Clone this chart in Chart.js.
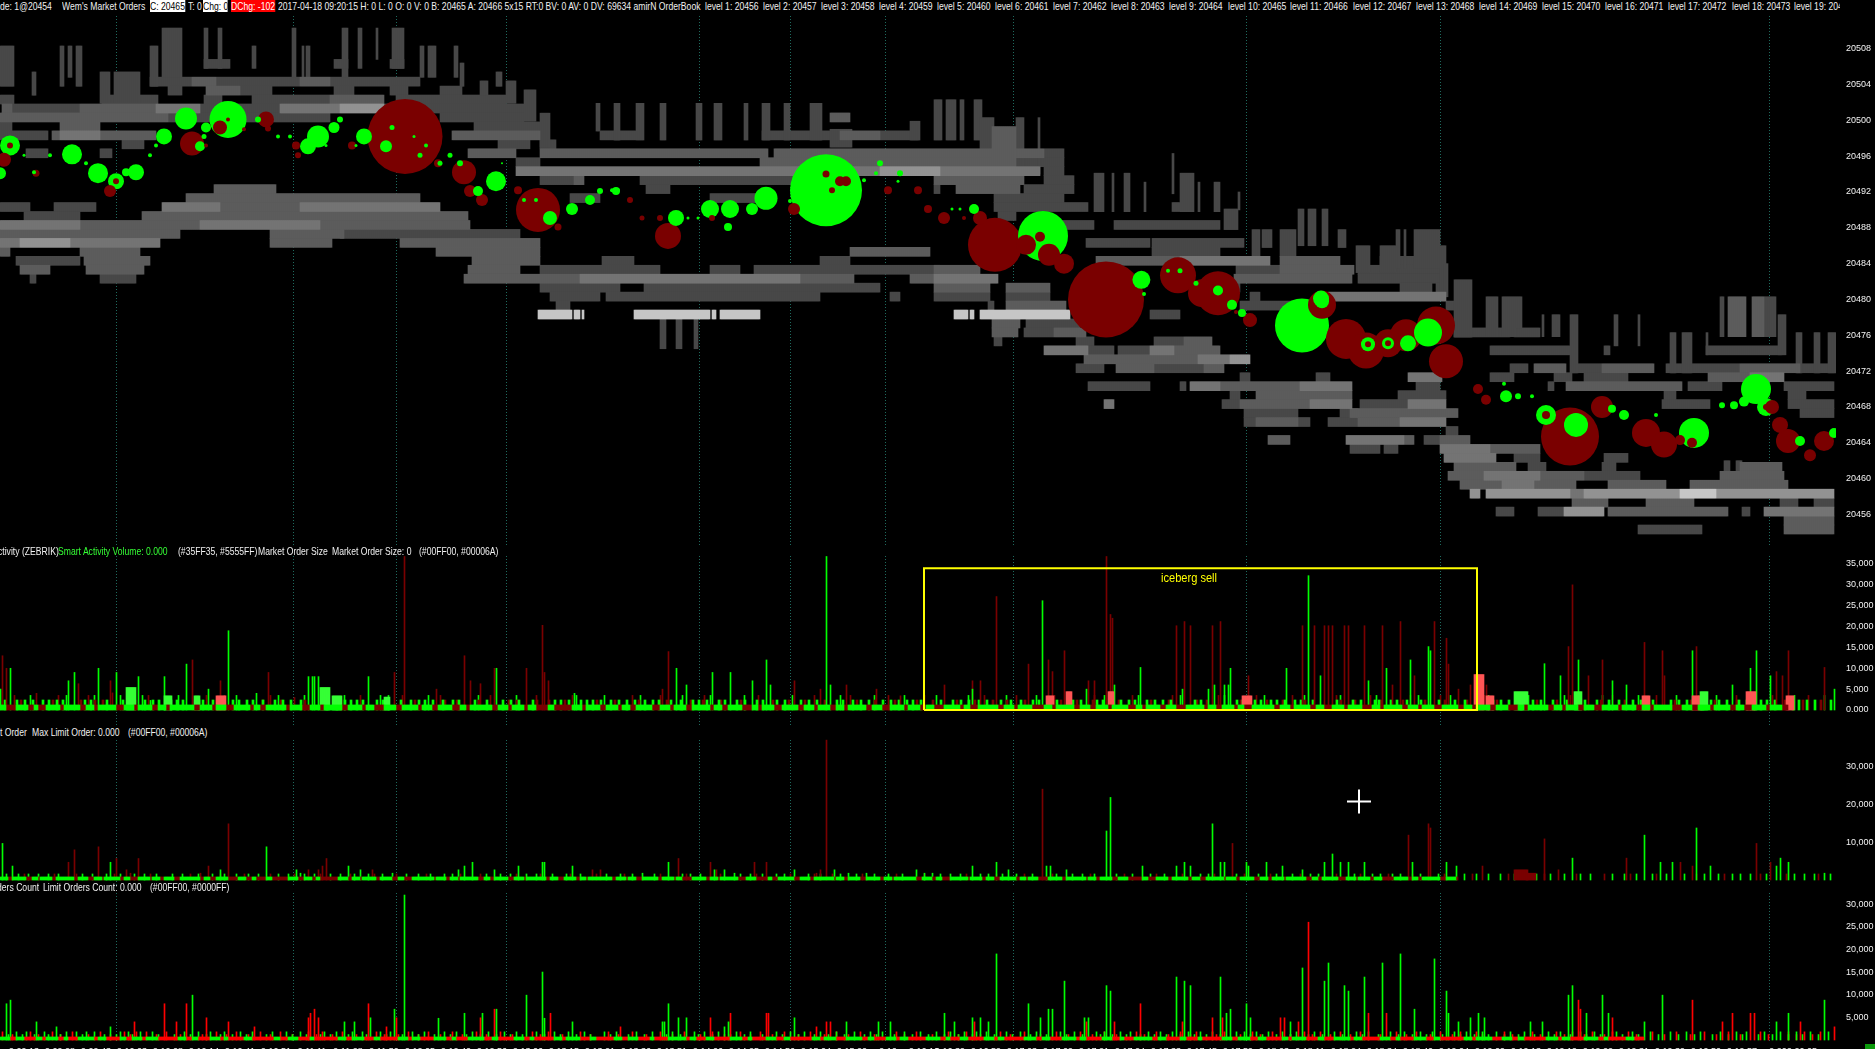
<!DOCTYPE html>
<html><head><meta charset="utf-8">
<script src="https://cdn.jsdelivr.net/npm/chart.js@4"></script>
<style>
html,body{margin:0;padding:0;background:#000;width:1875px;height:1049px;overflow:hidden}
canvas{position:absolute;left:0;display:block}
.t{position:absolute;white-space:pre;font:10.5px/12px "Liberation Sans",sans-serif;color:#f0f0f0;z-index:5;transform:scaleX(.82);transform-origin:0 0}
</style></head><body>
<canvas id="p1" width="1875" height="531" style="top:14px"></canvas>
<canvas id="p2" width="1875" height="169" style="top:556px"></canvas>
<canvas id="p3" width="1875" height="147" style="top:738px"></canvas>
<canvas id="p4" width="1875" height="183" style="top:892px"></canvas>
<script>
// ---------- shared ----------
const columnCount = 918;
const gridColumns = [58,146.5,198,253,349.5,395,442.5,506.5,623,720,884.5];
const priceTicks = [20456,20460,20464,20468,20472,20476,20480,20484,20488,20492,20496,20500,20504,20508];
const sizeTicks = [0,5000,10000,15000,20000,25000,30000,35000];
const limitTicks = [10000,20000,30000];
const countTicks = [5000,10000,15000,20000,25000,30000];
const timeColumns = [12,30,48,66,84,102,120,138,156,174,192,210,228,246,264,282,300,318,336,354,372,390,408,426,444,462,475,493,511,529,547,565,583,601,619,637,655,673,691,709,727,745,763,781,799,817,835,853,871,889,901];
const timeLabels = ["9:09:13","9:09:28","9:09:43","9:10:03","9:10:08","9:10:14","9:10:41","9:10:51","9:11:11","9:11:28","9:11:50","9:12:05","9:12:40","9:12:56","9:13:06","9:13:15","9:13:21","9:13:36","9:13:51","9:14:06","9:14:25","9:14:56","9:15:04","9:15:20","9:16","9:16:10","9:16:39","9:16:59","9:17:03","9:17:09","9:17:21","9:17:24","9:17:33","9:17:45","9:17:59","9:18:03","9:18:11","9:18:24","9:18:34","9:18:40","9:19:04","9:19:09","9:19:13","9:19:19","9:19:22","9:19:31","9:19:39","9:19:50","9:19:57","9:20","9:20:05"];

// ---------- order book heat (price level, [first col, last col, shade ...]) ----------
const heatShades = ["#000","#484848","#5c5c5c","#747474","#929292","#c6c6c6"];
const heatPrices = [20504,20503,20502,20501,20500,20499,20498,20497,20496,20495,20494,20493,20492,20491,20490,20489,20488,20487,20486,20485,20484,20483,20482,20481,20480,20479,20478,20477,20476,20475,20474,20473,20472,20471,20470,20469,20468,20467,20466,20465,20464,20463,20462,20461,20460,20459,20458,20457,20456,20455,20454];
const heatSpans = [
 [75,96,1,96,108,2,108,150,1,150,165,2,165,210,1],
 [84,91,1,103,120,2,120,136,1,167,177,1,195,204,1,220,231,1],
 [0,7,1,51,79,1,102,111,1,126,135,1,135,165,1,165,192,2,198,231,1,231,253,1],
 [1,6,2,6,40,1,40,78,2,78,100,3,100,140,1,140,150,3,150,170,3,170,192,4,192,262,1],
 [0,45,2,45,84,2,84,135,1,135,150,1,150,165,1,220,262,1,415,425,2],
 [0,6,1,30,50,2,237,270,1],
 [0,24,1,26,30,2,30,50,3,50,78,2,226,270,2,300,318,1,381,420,1,420,440,2,440,459,1],
 [61,72,1,249,265,1,270,278,1],
 [13,24,1,50,56,1,234,258,2,270,330,2,330,384,2,387,430,2,430,470,2,470,480,2,480,522,2,522,532,1],
 [258,270,1,380,430,2,430,500,2,500,532,1],
 [258,300,3,300,340,3,340,395,3,395,440,3,440,470,4,470,500,3,500,520,3,522,532,1],
 [270,290,1,287,292,2,320,400,1,467,512,2,522,537,1],
 [107,138,2,323,335,1,467,470,1,478,510,2,512,537,1],
 [93,120,2,120,160,2,160,210,2,285,300,1,355,383,1,497,532,1],
 [0,15,1,27,48,1,81,110,3,110,150,2,150,220,3,497,544,1,586,590,1],
 [12,40,1,71,120,2,120,170,2,170,234,2,499,508,1],
 [0,40,3,40,100,2,100,160,3,160,235,2,530,547,1,557,610,1],
 [0,90,2,135,172,2,170,260,1],
 [0,10,3,10,35,4,35,80,3,135,166,2,200,270,2,543,575,1,576,622,1],
 [0,5,2,40,70,2,218,270,2,425,465,2,576,610,1],
 [8,40,1,42,75,2,236,270,2,301,317,1,410,425,1,548,590,2,590,635,3,640,670,2,690,722,1],
 [10,25,2,43,72,2,234,260,2,270,330,1,355,370,1,377,470,1,467,490,2,618,640,1,640,677,2,679,722,1],
 [15,18,1,50,68,1,232,270,2,270,290,2,290,400,3,400,427,2,455,470,2,467,499,3,617,676,2,679,723,1],
 [270,310,1,322,440,1,467,495,2,503,525,2,613,620,1,700,716,1,718,722,1],
 [275,300,1,303,410,1,445,450,1,467,495,1,503,525,1,625,630,1,664,723,3],
 [278,285,1,494,497,1,503,533,2,620,660,1,723,730,1],
 [269,286,5,287,288,5,288,290,5,291,292,5,317,355,5,356,358,5,360,378,5,378,380,5,477,484,5,485,487,5,490,535,5,575,590,1],
 [496,510,2,513,527,1,527,540,1],
 [496,509,2,512,527,1,527,543,2,727,740,1,740,755,1,757,770,1],
 [497,501,1,538,547,1,577,592,1,592,606,2],
 [522,544,3,544,557,1,559,575,1,575,587,3,587,610,2,745,757,1,757,785,1,802,805,1,853,891,1],
 [542,587,2,587,599,2,599,615,3,615,625,4],
 [538,552,1,558,577,2,577,587,1,587,602,1,602,612,2,755,764,1,767,783,2,786,801,1,801,827,2,833,870,1,870,900,2,900,917,1],
 [620,625,1,658,665,1,704,721,3,745,757,1,777,786,1,792,814,1,854,875,2,875,892,3],
 [544,575,1,590,593,1,595,610,3,610,625,2,625,650,2,650,676,3,708,720,1,774,777,1,783,841,2,844,861,1,892,917,1],
 [615,620,1,628,676,2,699,723,1,832,838,1,894,903,1],
 [552,557,3,611,620,1,620,655,2,655,676,3,680,704,1,704,723,3,831,855,1,894,917,1],
 [622,649,1,670,679,1,675,700,2,700,729,2,900,917,1],
 [622,628,1,628,649,2,649,655,1,664,679,1,679,700,2,700,723,3],
 [723,729,1],
 [634,645,2,673,702,3,702,707,2,712,720,1,720,735,2],
 [675,690,1,692,699,1,720,745,3,745,770,2],
 [722,748,3,757,770,1,802,814,1],
 [727,758,2,764,773,1,801,808,1,870,891,2],
 [724,742,2,742,770,3,770,792,2,792,820,1,860,892,2],
 [730,751,2,751,767,3,767,788,2,804,833,2,845,894,2],
 [735,740,4,743,785,4,785,792,3,792,840,4,840,858,5,858,917,4],
 [786,804,2,823,847,2,890,899,1,907,917,1],
 [748,757,1,769,782,1,782,802,4,804,820,2,820,864,2,871,875,1,882,917,3],
 [892,917,2],
 [819,851,1,892,917,2]
];
// vertical staples above the band: first col, last col, low price, high price, shade
const heatStrips = [
 [0,6,20503.8,20508.3,1],[16,17,20502.8,20505.4,1],[30,31,20503.8,20508.3,1],[34,35,20504.8,20508.3,1],[38,40,20503.8,20508.3,1],
 [50,54,20501.9,20505.4,1],[57,69,20501.9,20505.4,1],[75,78,20503.8,20508.3,1],[81,90,20504.8,20510.3,1],
 [102,103,20505.8,20510.3,1],[109,110,20505.8,20510.3,1],[102,114,20505.8,20506.8,1],[126,127,20505.8,20508.3,1],
 [146,147,20504.8,20510.3,1],[151,151,20504.8,20508.3,1],[153,154,20504.8,20508.3,1],[171,173,20504.8,20510.3,1],[167,173,20505.8,20506.8,1],
 [179,180,20505.8,20510.3,1],[188,188,20506.8,20510.3,1],[196,201,20505.8,20510.3,1],[195,201,20505.8,20506.8,1],
 [210,211,20504.8,20508.3,1],[214,217,20504.8,20508.3,1],[227,228,20504.8,20508.3,1],[230,231,20503.8,20506.4,1],[248,250,20503.8,20505.4,1],
 [240,243,20502.8,20504.4,1],[253,257,20501.9,20504.4,1],[262,267,20499.9,20503.4,1],[270,274,20497,20500.8,1],[298,299,20498.8,20501.9,1],
 [307,309,20497.8,20501.9,1],[318,321,20497.8,20501.9,1],[330,332,20497.8,20501.9,1],[348,350,20497.8,20501.9,1],[357,360,20497.8,20501.9,1],[372,373,20497.8,20501.9,1],[381,384,20497.8,20501.9,1],[392,394,20497.8,20501.9,1],[405,410,20497.8,20501.9,1],[415,425,20497,20499,1],[455,459,20497.8,20499.9,1],
 [467,470,20497.8,20502.3,1],[473,477,20497.8,20502.3,1],[480,481,20497.8,20502.3,1],[487,490,20497.8,20502.3,1],[490,496,20494,20500.3,1],[496,507,20494,20499.3,2],[508,511,20494,20500.3,1],[519,519,20494,20500.3,1],
 [547,551,20489.8,20494.1,1],[556,556,20489.8,20494.1,1],[562,564,20489.8,20494.1,1],[572,572,20489.8,20493.1,1],[586,586,20491.8,20496.3,1],[590,596,20489.8,20494.1,1],[599,599,20489.8,20493.1,1],[607,609,20489.8,20493.1,1],
 [612,618,20487.8,20490.1,1],[619,619,20490,20492,1],[626,629,20484.8,20487.8,1],[631,635,20485.8,20487.8,1],[640,647,20484.8,20487.8,1],[649,651,20486,20490.1,1],[654,657,20486,20490.1,1],[661,663,20486,20490.1,1],[669,672,20485.8,20487.8,1],
 [678,684,20483,20486,1],[690,697,20483,20486,1],[698,699,20483.5,20487.8,1],[702,702,20483.5,20487.8,1],[707,719,20483.5,20487.8,1],[720,722,20480.3,20486,1],[722,723,20480.3,20484,1],
 [727,735,20475.8,20482.2,1],[743,748,20475.85,20480.3,1],[751,757,20475.85,20480.3,1],[758,760,20476.82,20480.3,1],[771,771,20475.85,20478.3,1],[776,779,20475.85,20478.3,1],[785,788,20471.8,20478.3,1],[807,808,20474.82,20478.3,1],[819,819,20474.82,20478.3,1],[835,837,20471.8,20476.3,1],[841,845,20471.8,20476.3,1],[853,853,20473.82,20476.3,1],[860,861,20475.85,20480.3,1],[864,872,20475.85,20480.3,2],[876,881,20475.85,20480.3,2],[882,887,20475.85,20480.3,1],[889,892,20473.82,20478.3,1],[898,900,20471.8,20476.3,1],[907,909,20471.8,20476.3,1],[914,917,20471.8,20476.3,1],
 [330,332,20474.5,20477.8,1],[338,340,20474.5,20477.8,1],[347,348,20474.5,20477.8,1],[862,864,20460.8,20462,1],[868,870,20460.8,20462,1]
];

// ---------- market order bubbles: column, price, size ----------
const buyBubbles = [
 [5,20497.2,10],[0,20494.1,6],[36,20496.2,10],[49,20494.1,10],[58,20493.2,8],[68,20494.2,8],[63,20494.2,4],[82,20498.2,8],[93,20500.2,11],[100,20497.1,5],[114,20500.1,18.5],[103,20499.2,5],[129,20500.1,3],[159,20498.2,11],[154,20497.1,8],[167,20499.2,5.5],[170,20500.1,3],[182,20498.2,8],[193,20497.1,6],[196,20499.2,2.5],
 [230,20495.2,3],[248,20493.2,10],[239,20492.1,5],[275,20489.1,7],[286,20490.1,6],[300,20492.1,3],[308,20492.1,4],[295,20491.1,5],[338,20489.1,8],[355,20490.1,9],[365,20490.1,9],[376,20490.1,6],[383,20491.3,11.5],[413,20492.2,36],[415,20494.4,6],[411,20492.2,6],[440,20495.2,3],[450,20494.1,3],[364,20488.1,4],
 [487,20490.1,5],[521.5,20487.1,25],[570.7,20482.2,9],[660.5,20480.1,8],[651,20477.1,27],[661,20479.8,7],[714,20476.3,14],[704,20475.1,8],[694,20475.1,6],[684,20475,7],
 [773,20467.1,10],[788,20466,12],[812,20467.1,5],[806,20467.8,4],[847,20465.1,15],[878,20470,15],[917,20465.1,5],[900,20464.2,5],[861,20468.2,3],[867,20468.2,4],[872,20468.6,5],[759,20469.2,3],[609,20481,5],[616,20479.4,5],[621,20478.5,4],[572,20480.6,2],[584,20483.2,2],[590,20483.2,2.5],[598,20481.8,2.5],[753,20469.2,6],[883,20468,9],
 [12,20496.1,1.5],[25,20496.1,2],[17,20494.2,2],[43,20495.2,2],[75,20496.1,2],[78,20497.2,2],[102,20498.2,2.5],[139,20498.2,2],[145,20498.2,2],[163,20497.2,1.5],[178,20497.2,1.5],[207,20498.2,1.5],[210,20496.1,2.5],[213,20497.2,2],[220,20495.2,2.5],[225,20496.1,2.5],[251,20495.2,1],[262,20491.1,2],[268,20491.1,2],[306,20492.2,2],[309,20492.2,2],[344,20489.1,1.5],[349,20489.1,1.5],[395,20491,2],[403,20491,2],[432,20493.3,2],[438,20494.1,2],[449,20493.2,1.5],[476,20490.1,1.5],[480,20490.1,1.5],[752,20470.6,2],[766,20469.2,2],[828,20467.1,2]
];
const sellBubbles = [
 [2,20495.6,7],[18,20494.1,3.5],[58,20493.2,3],[55,20492.1,6],[96,20497.4,12],[110,20499.2,7],[122,20499,2],[133,20500.1,8],[134,20499.1,3],[148,20497.2,4],[149,20496.1,3],[202.5,20498.2,37.5],[176,20497.2,4],[219,20495.2,4],[232,20494.2,12],[235,20492.1,6],[241,20491.1,6],[259,20492.2,4],[269,20490,22],[279,20488.1,3.5],[315,20491.1,3],[321,20489.1,2.5],[330,20489.1,3],[334,20487.1,13],[397,20490.1,6],[423,20493.2,5],[444,20492.2,4],[459,20492.2,4],[464,20490.1,4],[356,20489.1,3],
 [472,20489.1,6],[482,20489.1,2],[490,20489.1,7],[497.5,20486.1,27],[513,20486.1,10],[520,20487,5],[524.5,20485,11],[532,20484,10],[553,20480,38],[589,20482.7,18],[601,20480.7,14],[609,20480.7,22],[625,20477.7,7],[661,20479.4,14],[673,20475.6,20],[683,20474.3,18],[694,20475.1,14],[703,20476,16],[718,20477.1,19],[723,20473.1,17],[739,20470,5],[743,20468.8,5],[785,20464.7,29],[801,20468,11],[823,20465.1,14],[832,20463.8,13],[840,20464.3,5],[886,20468,7],[890,20466,8],[894,20464.2,12],[912,20464.2,10],[905,20462.6,6],
 [5,20497.2,3],[103,20497.2,2],[413,20494,3.5],[420,20493.2,5],[416,20492.2,3],[114,20500.1,2],[773,20467.1,4],[684,20475,3],[694,20475.1,3],[846,20464,5],[883,20468,3],[618,20478.6,2]
];

// ---------- pane 2: market order size ----------
const sizeBuyCols = [0,5,34,37,49,58,69,75,82,93,104,114,128,154,156,157,159,184,194,248,287,338,343,356,365,376,383,385,413,415,521,570,654,643,615,705,714,715,693,543,557,591,604,607,612,614,486,660,684,772,789,780,846,878,875,885,866,917,813,806];
const sizeBuyVals = [5000,10000,7000,9000,10000,9000,8000,2300,8000,11000,5000,19000,4000,8000,8000,8000,8000,8000,3500,10000,4000,10000,6000,9000,9000,7000,12000,6000,36800,6000,26200,10200,32200,10000,10000,12000,15200,14200,10000,5000,6000,5000,5000,6000,6000,6000,5000,8200,7000,11100,12000,8200,14200,14200,10000,8200,6000,5000,6000,7000];
const sizeSellCols = [1,3,18,39,55,56,96,110,134,147,197,202,218,232,235,240,247,263,271,272,274,331,334,397,410,423,438,450,498,553,555,556,514,524,532,526,472,486,490,544,547,588,592,595,606,610,624,651,657,662,664,666,672,674,682,691,700,717,723,724,707,696,786,784,801,794,822,831,832,848,888,891,894,912,735,729,743];
const sizeSellVals = [13000,10000,4000,6300,7000,4100,12000,7000,9000,3000,9000,36800,5000,13000,7000,6300,10000,10000,20300,9000,7000,5000,14000,7000,5000,6000,5000,3400,27200,36800,22900,22000,11000,12000,14200,9200,6000,7000,7000,7000,7000,20200,21200,20200,20200,21200,8200,20200,20200,20200,20200,20200,20200,20200,20200,20200,21200,21200,17200,11000,8200,6000,30000,15200,12000,8200,16200,14200,8200,15200,9200,8200,14200,10200,6000,5000,6000];
const sizeSmallBuyCols = [2,8,12,16,21,24,28,31,42,45,53,61,72,76,79,85,88,91,99,101,106,116,119,123,126,131,137,141,145,150,163,168,172,175,178,181,188,191,200,205,209,212,216,221,226,229,237,243,251,255,259,266,277,280,284,290,293,296,300,305,309,313,317,322,326,329,335,340,346,349,353,359,362,368,372,378,381,388,392,400,404,408,418,421,426,430,434,441,445,449,453,456,460,470,476,480,484,489,493,500,505,510,516,519,528,536,540,548,551,560,564,567,573,577,581,585,597,600,618,621,627,630,635,638,642,647,650,656,668,676,680,687,689,695,698,703,710,719,727,732,738,746,750,754,760,766,770,776,783,792,798,804,809,816,820,826,835,839,843,851,855,859,863,869,873,880,883,887,896,899,903,907,915];
const sizeSmallSellCols = [10,26,40,47,51,67,97,108,131,140,152,170,192,207,222,228,239,254,258,268,274,282,298,307,319,333,345,351,360,370,386,394,402,412,428,437,447,458,466,478,487,496,503,512,530,538,546,559,575,584,598,603,620,633,641,652,670,677,690,701,712,722,733,741,748,758,768,778,790,800,812,824,837,845,857,868,876,892,901,910];
const sizeMidBuyCols = [15,33,47,60,71,89,118,139,152,172,190,214,239,258,288,302,320,341,355,372,396,420,437,452,468,484,503,518,535,552,569,590,612,632,652,670,688,709,725,744,764,782,801,819,838,858,877,897,912];
const sizeMidSellCols = [7,29,44,74,103,112,135,161,180,201,220,245,268,286,316,330,352,379,407,425,444,462,492,508,527,547,566,586,609,628,646,668,685,705,720,742,761,785,806,828,849,868,886,904];
// solid blocks: first col, last col, height
const sizeBuyBlocks = [63,67,5400,82,85,3400,97,99,3400,160,164,5400,166,170,3400,192,194,3100,757,763,4400,787,790,4400,850,853,4400];
const sizeSellBlocks = [108,112,3400,523,526,3400,533,535,4400,554,556,4400,621,625,3400,737,741,8500,743,746,3400,821,824,3400,846,850,3400,873,877,4400,893,896,3400];

// ---------- pane 3: max limit order ----------
const limitBuyCols = [1,6,55,133,110,148,150,174,180,196,232,236,229,247,259,271,272,286,321,334,357,362,367,397,417,424,433,458,462,466,486,498,504,523,525,533,553,555,571,588,592,595,606,610,612,623,624,633,641,651,662,666,670,674,682,706,723,728,786,822,830,836,848,855,890,894,888,912];
const limitBuyVals = [9700,3700,4700,8800,2700,2700,1800,3700,2700,1800,3700,4700,2700,2700,3700,4700,4700,3700,1800,4700,2700,2700,1800,2700,2700,1800,1800,2700,1800,1800,3700,4700,2700,3700,3700,2700,13000,21900,3700,3700,4700,3700,14900,4700,4700,4700,3700,4700,3700,2700,4700,6900,4700,4700,4700,4700,4700,3700,5800,11900,4700,4700,13800,3700,5800,4700,3700,1800];
const limitSellCols = [34,37,49,58,69,63,65,114,104,100,154,159,161,163,186,339,355,358,377,383,413,410,408,296,300,521,616,704,714,715,741,772,779,813,840,846,878,885];
const limitSellVals = [4700,8000,8800,5700,5700,2700,1800,14900,3700,1800,2700,2700,3700,5700,2700,5700,4700,2700,4700,4700,37100,2700,1800,2700,2700,24100,9700,11900,14900,13800,3700,10900,2700,5800,4700,3700,9700,4700];
const limitSmallBuyCols = [3,9,14,19,24,29,41,46,53,60,67,72,78,86,91,99,106,112,118,124,129,139,144,152,157,165,170,177,184,191,203,209,215,222,226,243,250,255,263,268,276,283,290,303,310,316,327,341,345,350,370,375,381,388,392,404,410,420,428,437,444,451,470,475,480,490,494,501,508,516,528,536,541,547,558,566,575,582,600,604,618,629,638,646,655,659,677,686,690,696,700,710,719,732,738,744,750,757,768,775,782,790,795,806,812,818,826,833,842,852,859,866,870,875,883,897,902,907,915];
const limitSmallSellCols = [12,27,38,57,75,95,110,122,135,147,160,175,187,198,213,230,240,258,270,285,298,312,330,343,360,378,395,407,416,431,448,462,483,498,512,526,545,562,578,591,607,622,635,650,668,680,694,706,722,736,754,772,788,802,815,828,848,862,880,893,909];
const limitDarkBlocks = [757,763,2700,763,767,1800];

// ---------- pane 4: limit orders count ----------
const countBuyCols = [202,96,3,5,18,28,55,263,271,272,232,241,248,197,219,334,339,343,331,332,362,364,397,423,439,445,172,177,185,286,472,477,486,490,494,498,514,520,524,526,532,542,544,553,555,588,592,595,610,613,615,625,623,645,651,662,664,672,674,682,691,700,707,717,723,724,729,735,739,742,765,771,784,786,793,801,804,831,822,912,888,894];
const countBuyVals = [32000,9900,8000,8800,4000,2900,2900,9900,15000,4800,5900,5900,6800,6800,4800,8000,4900,4900,4000,4000,2900,4000,4900,4000,4000,4000,4000,4000,4900,4000,5900,4000,4900,4900,4000,19000,8000,4900,6800,6800,13000,4900,4900,12000,10800,13900,13000,12000,13900,5900,6800,4900,8000,4000,15900,13000,17000,12000,10800,13900,17000,19000,6800,17900,10800,5900,4000,4900,5900,4900,4000,4000,9900,12000,5900,9900,5900,9900,4000,8800,4000,5900];
const countSellCols = [82,93,67,103,88,157,155,154,159,114,184,198,193,240,247,275,383,384,365,355,413,415,408,310,127,654,570,789,790,846,806,866,875,877,684,693,640,642,649,861,900,917,591,606,611,557,543,487];
const countSellVals = [8000,8000,4000,4900,4000,6800,5900,4900,4900,4000,8000,4900,2900,4900,6800,5900,5900,5900,5900,4900,4000,4000,2900,2900,2900,26000,8000,8800,6800,8800,4900,5900,5900,5900,5900,5900,4900,4900,4000,4000,4000,2900,4000,4900,4900,4000,4000,4000];
const countSmallBuyCols = [8,13,22,33,38,43,47,60,64,70,76,92,99,105,112,120,126,136,143,150,162,168,176,181,190,195,206,212,222,228,236,244,252,258,268,277,284,292,302,308,318,326,336,347,352,359,368,375,388,395,402,410,418,427,435,441,452,460,468,475,482,488,493,503,510,518,530,537,548,552,560,565,574,580,586,594,600,606,618,622,628,634,641,648,657,667,678,684,695,702,710,716,727,733,741,748,755,762,774,780,790,797,808,816,825,835,843,850,860,868,873,882,890,898,905,914];
const countSmallSellCols = [1,15,26,36,50,62,68,73,83,108,118,130,140,154,161,171,188,204,214,226,238,250,266,274,290,304,316,330,342,356,370,380,392,405,418,430,448,458,474,483,500,512,528,540,552,568,578,590,598,612,626,636,652,660,670,680,698,708,720,730,738,752,766,778,786,796,806,814,826,838,852,864,880,894,902,910];
const countTinyBuyCols = [4,11,17,24,30,41,52,58,66,79,87,95,103,110,116,123,133,146,153,160,165,174,183,193,201,209,217,225,233,240,248,255,261,272,280,288,295,305,314,322,333,340,349,356,365,372,381,391,399,407,414,422,432,438,447,456,464,472,479,486,497,506,515,523,533,541,550,556,563,570,577,583,590,597,603,610,625,631,638,645,654,661,671,681,689,699,706,713,721,730,737,744,752,759,767,777,785,793,800,811,819,829,839,847,856,864,871,879,886,894,901,909];
const countTinySellCols = [6,19,30,44,55,65,78,90,101,113,124,135,146,158,166,178,192,199,209,220,231,243,256,270,281,295,309,323,336,350,362,375,386,399,412,424,437,452,466,479,490,505,520,534,546,558,572,584,595,608,620,630,645,656,665,675,690,703,715,726,741,756,770,782,792,802,818,832,845,858,870,884,898,906];

// ---------- bottom strips: alternating run lengths, buy first then sell ----------
const sizeStripRuns = [3,5,6,3,2,4,7,2,8,3,4,2,9,4,5,2,7,3,4,2,12,3,6,2,5,4,8,2,3,3,10,2,6,4,5,2,9,3,7,2,4,5,6,3,8,2,5,3,7,4,3,2,11,3,5,2,6,2,4,6,3,9,5,2,7,3,6,2,4,3,8,4,5,2,6,3,9,2,4,3,7,5,3,2,6,4,8,3,5,2,6,3,4,2,9,3,5,4,7,2,6,3,4,5,8,2,3,4,10,3,5,2,7,6,4,2,9,3,5,3,6,2,8,4,3,2,7,3,5,5,9,2,4,3,6,2,3,4,11,3,5,2,8,3,4,4,6,2,7,5,4,2,9,3,5,2,6,4,8,3,4,2,7,3,6,5,3,2,10,3,4,2,6,3,5,4,8,2,7,3,4,2,9,5,5,3,6,2,8,3,4,4,7,2,6,3];
const limitStripRuns = [4,2,7,3,3,1,6,2,9,2,5,3,4,1,8,2,3,4,6,1,4,2,5,3,10,2,3,3,6,5,4,3,2,5,3,8,5,3,4,2,2,9,5,2,4,1,7,2,6,3,3,4,11,1,5,2,4,1,9,3,3,2,7,3,5,1,10,2,4,3,6,2,3,1,12,2,5,1,4,3,8,2,6,1,3,5,7,2,4,1,9,4,5,6,2,3,8,3,5,2,10,1,4,2,6,3,7,2,4,1,11,3,5,2,3,4,9,1,6,2,4,3,8,2,3,1,5,5,7,2,10,1,4,2,6,3,5,7,3,4,6,2,8,2,4,3,9,1,5,2,7,3,4,2,6,1,10,3,3,2,8,4,5,1,6,2,4,6,7,2,3,2,9,3,5,1];
const countStripRuns = [5,3,4,6,3,2,6,3,2,5,8,2,4,7,3,3,5,2,6,10,4,3,3,6,5,2,2,8,4,11,3,4,5,6,2,12,4,3,6,5,3,9,5,2,4,7,6,3,2,6,8,4,3,8,5,3,2,10,4,2,7,5,3,9,4,3,5,6,2,7,9,2,3,5,4,8,6,3,2,7,5,4,3,11,4,2,6,5,8,3,3,6,5,2,4,9,7,3,2,5,4,8,5,2,3,10,6,3,4,6,7,2,3,8,5,4,2,5,9,3,4,7,3,6,2,10,5,3,6,4,4,8,3,2,7,6,3,5,8,2,4,9,5,3,2,7,6,4,3,12,4,2,8,5,5,3,3,11,6,2,4,7,7,3,2,9,4,5];

// ---------- box and cursor ----------
const icebergBoxCols = [462,462,738.5,738.5,462];
const icebergBoxVals = [0,34000,34000,0,0];
const cursorCol = 679.5, cursorValue = 20800;

// ---------- colours ----------
const BUY = "#00ff00", SELL_DARK = "#7a0000", SELL_RED = "#ff0000", BLOCK_BUY = "#35ff35", BLOCK_SELL = "#ff5555", GRID = "#1f6a5e";
const FONT = {family:'"Liberation Sans",sans-serif', size:9};

Chart.defaults.animation = false;
Chart.defaults.events = [];

function spikes(cols, vals, color, order){
  return {type:'bar', data:cols.map((c,i)=>({x:c+0.25,y:vals[i]})), backgroundColor:color, barThickness:1, grouped:false, order};
}
function smallSpikes(cols, val, color, order){
  return spikes(cols, cols.map(()=>val), color, order);
}
function wideSpikes(cols, val, color, order){
  return {type:'bar', data:cols.map(c=>({x:c+0.5,y:val})), backgroundColor:color, barThickness:2, grouped:false, order};
}
function blocks(spans, color, order){
  const d=[]; for(let i=0;i<spans.length;i+=3) for(let c=spans[i];c<=spans[i+1];c++) d.push({x:c+0.5,y:spans[i+2]});
  return {type:'bar', data:d, backgroundColor:color, barThickness:2, grouped:false, order};
}
function strip(runs, height, colorA, colorB, order){
  const a=[],b=[]; let c=0,flip=false;
  for(const n of runs){ for(let k=0;k<n&&c<columnCount;k++,c++) (flip?b:a).push({x:c+0.5,y:height}); flip=!flip; }
  return [
    {type:'bar',data:a,backgroundColor:colorA,barThickness:2,grouped:false,order},
    {type:'bar',data:b,backgroundColor:colorB,barThickness:2,grouped:false,order}
  ];
}
function gridLines(yMin,yMax){
  return gridColumns.map(c=>({type:'line',data:[{x:c+0.25,y:yMin},{x:c+0.25,y:yMax}],borderColor:GRID,borderWidth:1,borderDash:[1,2],pointRadius:0,tension:0,fill:false,order:40}));
}
function baseOptions(yMin, yMax, yTicks, fmt){
  return {
    responsive:false, maintainAspectRatio:false, devicePixelRatio:1,
    layout:{padding:0, autoPadding:false},
    plugins:{legend:{display:false},title:{display:false},tooltip:{enabled:false}},
    scales:{
      x:{type:'linear',position:'bottom',min:0,max:columnCount,display:true,offset:false,
         border:{display:false},
         grid:{display:false,drawTicks:false},
         ticks:{display:false},
         afterFit:s=>{s.height=0;s.paddingLeft=0;s.paddingRight=0;}},
      y:{type:'linear',position:'right',min:yMin,max:yMax,
         border:{display:false},
         grid:{display:false,drawTicks:false},
         ticks:{color:'#f2f2f2',font:FONT,padding:10,autoSkip:false,callback:fmt},
         afterBuildTicks:s=>{s.ticks=yTicks.map(v=>({value:v}));},
         afterFit:s=>{s.width=39;s.paddingTop=0;s.paddingBottom=0;}}
    }
  };
}
const volFmt = v => v===0 ? '0.000' : v.toLocaleString('en-US');

// ----- pane 1 -----
const P1MIN=20452.59, P1MAX=20511.87;
const shadeData = heatShades.map(()=>[]);
heatPrices.forEach((p,i)=>{
  const s=heatSpans[i];
  for(let j=0;j<s.length;j+=3) for(let c=s[j];c<s[j+1];c++) shadeData[s[j+2]].push({x:c+0.5,y:[p-0.18,p+0.82]});
});
heatStrips.forEach(([c0,c1,lo,hi,l])=>{ for(let c=c0;c<=c1;c++) shadeData[l].push({x:c+0.5,y:[lo,hi]}); });
const heatSets = shadeData.map((d,l)=>({type:'bar',data:d,backgroundColor:heatShades[l],barThickness:2,grouped:false,order:20-l})).filter(s=>s.data.length);
const bubblePoints = buyBubbles.map(b=>({x:b[0],y:b[1],r:b[2],side:1})).concat(sellBubbles.map(b=>({x:b[0],y:b[1],r:b[2],side:0}))).sort((a,b)=>b.r-a.r);
new Chart(document.getElementById('p1'),{type:'bar',data:{datasets:[
  {type:'bubble',data:bubblePoints,order:1,borderWidth:0,hoverRadius:0,
   backgroundColor:ctx=>ctx.raw&&ctx.raw.side?BUY:SELL_DARK},
  ...heatSets,
  ...gridLines(P1MIN,P1MAX)
]},options:baseOptions(P1MIN,P1MAX,priceTicks,v=>String(v))});

// ----- pane 2 -----
new Chart(document.getElementById('p2'),{type:'bar',data:{datasets:[
  {type:'line',data:icebergBoxCols.map((c,i)=>({x:c,y:icebergBoxVals[i]})),borderColor:'#ffff00',borderWidth:2,pointRadius:0,tension:0,fill:false,order:0,clip:false},
  ...strip(sizeStripRuns,1200,BUY,SELL_DARK,2),
  blocks(sizeBuyBlocks,BLOCK_BUY,3),
  blocks(sizeSellBlocks,BLOCK_SELL,3),
  spikes(sizeBuyCols,sizeBuyVals,BUY,4),
  spikes(sizeSellCols,sizeSellVals,SELL_DARK,5),
  wideSpikes(sizeSmallBuyCols,2400,BUY,6),
  wideSpikes(sizeSmallSellCols,2400,SELL_DARK,6),
  smallSpikes(sizeMidBuyCols,3500,BUY,7),
  smallSpikes(sizeMidSellCols,3500,SELL_DARK,7),
  ...gridLines(-3596,36918)
]},options:baseOptions(-3596,36918,sizeTicks,volFmt)});

// ----- pane 3 -----
new Chart(document.getElementById('p3'),{type:'bar',data:{datasets:[
  {type:'scatter',data:[{x:cursorCol,y:cursorValue}],pointStyle:'cross',pointRadius:12,borderColor:'#ffffff',pointBorderColor:'#ffffff',pointBorderWidth:2,showLine:false,order:0},
  ...strip(limitStripRuns,800,BUY,SELL_DARK,2),
  blocks(limitDarkBlocks,SELL_DARK,3),
  spikes(limitBuyCols,limitBuyVals,BUY,4),
  spikes(limitSellCols,limitSellVals,SELL_DARK,5),
  smallSpikes(limitSmallBuyCols,1600,BUY,6),
  smallSpikes(limitSmallSellCols,1600,SELL_DARK,6),
  ...gridLines(-1326,37666)
]},options:baseOptions(-1326,37666,limitTicks,volFmt)});

// ----- pane 4 -----
const opt4 = baseOptions(-221,32671,countTicks,volFmt);
opt4.scales.xt = {type:'linear',position:'bottom',min:0,max:columnCount,offset:false,
  border:{display:false},grid:{display:false,drawTicks:false},
  ticks:{color:'#f2f2f2',font:FONT,padding:5,autoSkip:false,maxRotation:0,minRotation:0,
    callback:v=>timeLabels[timeColumns.indexOf(v)]},
  afterBuildTicks:s=>{s.ticks=timeColumns.map(v=>({value:v}));},
  afterFit:s=>{s.height=34;s.paddingLeft=0;s.paddingRight=0;}};
new Chart(document.getElementById('p4'),{type:'bar',data:{datasets:[
  ...strip(countStripRuns,660,BUY,SELL_RED,2),
  spikes(countBuyCols,countBuyVals,BUY,4),
  spikes(countSellCols,countSellVals,SELL_RED,5),
  smallSpikes(countSmallBuyCols,1800,BUY,6),
  smallSpikes(countSmallSellCols,1800,SELL_RED,6),
  smallSpikes(countTinyBuyCols,1200,BUY,7),
  smallSpikes(countTinySellCols,1200,SELL_RED,7),
  ...gridLines(-221,32671)
]},options:opt4});

// ----- real text overlay -----
const textItems = [
 ["de: 1@20454",0,0,"#f0f0f0",""],["Wem's Market Orders",62,0,"#f0f0f0",""],
 ["C: 20465",150,0,"#000","#fff",35],["T: 0",188,0,"#f0f0f0",""],["Chg: 0",203,0,"#000","#fff",25],["DChg: -102",231,0,"#fff","#ff0000",44],
 ["2017-04-18 09:20:15 H: 0 L: 0 O: 0 V: 0 B: 20465 A: 20466 5x15 RT:0 BV: 0 AV: 0 DV: 69634 amirN OrderBook",278,0,"#f0f0f0",""],
 ["level 1: 20456",705,0],["level 2: 20457",763,0],["level 3: 20458",821,0],["level 4: 20459",879,0],["level 5: 20460",937,0],["level 6: 20461",995,0],["level 7: 20462",1053,0],["level 8: 20463",1111,0],["level 9: 20464",1169,0],["level 10: 20465",1228,0],["level 11: 20466",1290,0],["level 12: 20467",1353,0],["level 13: 20468",1416,0],["level 14: 20469",1479,0],["level 15: 20470",1542,0],["level 16: 20471",1605,0],["level 17: 20472",1668,0],["level 18: 20473",1732,0],
 ["ctivity (ZEBRIK)",-2,545],["Smart Activity Volume: 0.000",58,545,"#35ff35",""],["(#35FF35, #5555FF)",178,545],["Market Order Size",258,545],["Market Order Size: 0",332,545],["(#00FF00, #00006A)",419,545],
 ["t Order",0,725.5],["Max Limit Order: 0.000",32,725.5],["(#00FF00, #00006A)",128,725.5],
 ["ders Count",-3,880.5],["Limit Orders Count: 0.000",43,880.5],["(#00FF00, #0000FF)",150,880.5]
];
for(const [txt,x,y,col,bg,w] of textItems){
  const d=document.createElement('div');d.className='t';d.textContent=txt;
  d.style.left=x+'px';d.style.top=y+'px';
  if(col)d.style.color=col; if(bg){d.style.background=bg;} if(w){d.style.width=(w/.82)+'px';d.style.overflow='hidden';}
  document.body.appendChild(d);
}
const note=document.createElement('div');note.className='t';note.textContent='iceberg sell';
note.style.cssText='left:1161px;top:571px;color:#ffff00;font-size:13.5px;line-height:14px';document.body.appendChild(note);
const clip=document.createElement('div');clip.className='t';clip.textContent='level 19: 204';
clip.style.cssText='left:1794px;top:0;width:56px;overflow:hidden';document.body.appendChild(clip);
const box=document.createElement('div');box.style.cssText='position:absolute;left:1865px;top:1044px;width:10px;height:5px;background:#0b9a0b;z-index:5';document.body.appendChild(box);
</script>
</body></html>
